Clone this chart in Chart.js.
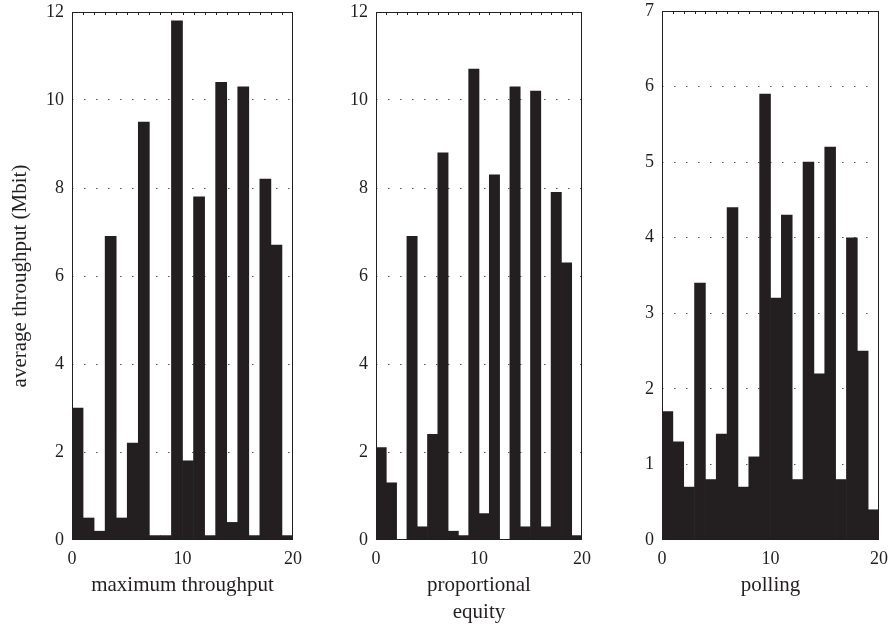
<!DOCTYPE html>
<html>
<head>
<meta charset="utf-8">
<script src="https://cdn.jsdelivr.net/npm/chart.js@4/dist/chart.umd.min.js"></script>
<style>
    html, body { margin: 0; padding: 0; background: #fff; }
    #wrap { position: relative; width: 896px; height: 631px; overflow: hidden; }
    canvas { position: absolute; top: 0; }
</style>
</head>
<body>
<div id="wrap">
    <canvas id="c1" width="310" height="631" style="left:0px"></canvas>
    <canvas id="c2" width="300" height="631" style="left:300px"></canvas>
    <canvas id="c3" width="306" height="631" style="left:590px"></canvas>
</div>
<script>
// start of each 1-wide bin (user index)
const binStarts = [0, 1, 2, 3, 4, 5, 6, 7, 8, 9, 10, 11, 12, 13, 14, 15, 16, 17, 18, 19];

// average throughput per user (Mbit)
const maxThroughput = [3.0, 0.5, 0.2, 6.9, 0.5, 2.2, 9.5, 0.1, 0.1, 11.8, 1.8, 7.8, 0.1, 10.4, 0.4, 10.3, 0.1, 8.2, 6.7, 0.1];
const propEquity    = [2.1, 1.3, 0.0, 6.9, 0.3, 2.4, 8.8, 0.2, 0.1, 10.7, 0.6, 8.3, 0.0, 10.3, 0.3, 10.2, 0.3, 7.9, 6.3, 0.1];
const polling       = [1.7, 1.3, 0.7, 3.4, 0.8, 1.4, 4.4, 0.7, 1.1, 5.9, 3.2, 4.3, 0.8, 5.0, 2.2, 5.2, 0.8, 4.0, 2.5, 0.4];

const panelTitles = ['maximum throughput', ['proportional', 'equity'], 'polling'];
const yMax = [12, 12, 7];
const yStep = [2, 2, 1];
const xTicks = [0, 10, 20];

const INK = '#231f20';
const FONT = "'Liberation Serif', 'DejaVu Serif', serif";

// frame around the plot + little ticks on the top edge
const framePlugin = {
    id: 'frame',
    afterDraw(chart) {
        const {ctx, chartArea: a, scales} = chart;
        ctx.save();
        ctx.strokeStyle = INK;
        ctx.lineWidth = 1;
        ctx.strokeRect(a.left + 0.5, a.top + 0.5, a.right - a.left - 1, a.bottom - a.top - 1);
        ctx.beginPath();
        for (let v = 1; v < 20; v++) {
            const px = Math.round(scales.x.getPixelForValue(v)) + 0.5;
            ctx.moveTo(px, a.top);
            ctx.lineTo(px, a.top + 3);
        }
        ctx.stroke();
        ctx.restore();
    }
};

function makePanel(id, values, idx, opts) {
    const ctx = document.getElementById(id).getContext('2d');
    return new Chart(ctx, {
        type: 'bar',
        data: {
            datasets: [{
                data: values.map((v, i) => ({x: binStarts[i] + 0.5, y: v})),
                backgroundColor: INK,
                borderWidth: 0,
                barPercentage: 1,
                categoryPercentage: 1,
                grouped: false
            }]
        },
        options: {
            responsive: false,
            animation: false,
            events: [],
            layout: {padding: {top: opts.padTop, right: opts.padRight, left: 0, bottom: 0}},
            plugins: {legend: {display: false}, tooltip: {enabled: false}},
            scales: {
                x: {
                    type: 'linear',
                    min: 0,
                    max: 20,
                    offset: false,
                    afterBuildTicks: s => { s.ticks = xTicks.map(v => ({value: v})); },
                    afterFit: s => { s.height = 91; },
                    grid: {display: false, drawTicks: false},
                    border: {display: false},
                    ticks: {color: INK, font: {family: FONT, size: 18}, padding: 8, maxRotation: 0},
                    title: {
                        display: true,
                        text: panelTitles[idx],
                        color: INK,
                        font: {family: FONT, size: 21, lineHeight: 1.3},
                        padding: {top: 0, bottom: Array.isArray(panelTitles[idx]) ? 4.5 : 31.5}
                    }
                },
                y: {
                    min: 0,
                    max: yMax[idx],
                    afterFit: s => { s.width = opts.yWidth; },
                    grid: {
                        drawTicks: false,
                        color: c => (c.tick.value === 0 || c.tick.value === yMax[idx]) ? 'rgba(0,0,0,0)' : '#555',
                        lineWidth: 1
                    },
                    border: {display: false, dash: [1.5, 10.5]},
                    ticks: {stepSize: yStep[idx], color: INK, font: {family: FONT, size: 18, lineHeight: 0.3}, padding: 8},
                    title: {
                        display: opts.yTitle,
                        text: 'average throughput (Mbit)',
                        color: INK,
                        font: {family: FONT, size: 21, lineHeight: 1.3},
                        padding: {top: 7, bottom: 0}
                    }
                }
            }
        },
        plugins: [framePlugin]
    });
}

makePanel('c1', maxThroughput, 0, {yWidth: 72, padRight: 16, padTop: 12, yTitle: true});
makePanel('c2', propEquity, 1, {yWidth: 76, padRight: 18, padTop: 12, yTitle: false});
makePanel('c3', polling, 2, {yWidth: 72, padRight: 10, padTop: 11, yTitle: false});
</script>
</body>
</html>
